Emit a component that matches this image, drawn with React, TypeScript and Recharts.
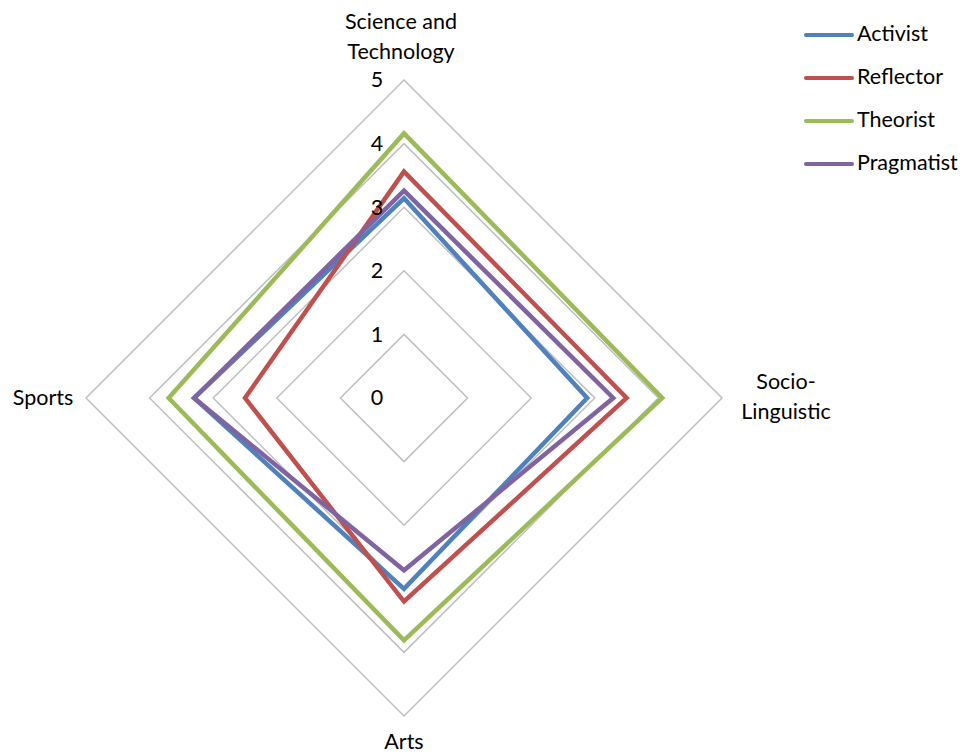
import { Legend, PolarAngleAxis, PolarGrid, PolarRadiusAxis, Radar, RadarChart } from "recharts"

const categories = ["Science and Technology", "Socio-Linguistic", "Arts", "Sports"]
const activist = [3.14, 2.88, 3.0, 3.3]
const reflector = [3.56, 3.5, 3.2, 2.5]
const theorist = [4.16, 4.06, 3.81, 3.7]
const pragmatist = [3.26, 3.29, 2.71, 3.3]
const radiusTicks = [0, 1, 2, 3, 4, 5]

const SERIES = [
  { key: "Activist", color: "#4F81BD" },
  { key: "Reflector", color: "#C0504D" },
  { key: "Theorist", color: "#9BBB59" },
  { key: "Pragmatist", color: "#8064A2" },
]

const chartData = categories.map((category, i) => ({
  category,
  Activist: activist[i],
  Reflector: reflector[i],
  Theorist: theorist[i],
  Pragmatist: pragmatist[i],
}))

const FONT = "Lato, Calibri, sans-serif"
const FONT_SIZE = 21.5

// label lines and offsets per axis, relative to the spoke end
const ANGLE_LABELS: Record<string, { lines: string[]; dx: number; dy: number }> = {
  "Science and Technology": { lines: ["Science and", "Technology"], dx: -3, dy: -48 },
  "Socio-Linguistic": { lines: ["Socio-", "Linguistic"], dx: 56, dy: -14 },
  Arts: { lines: ["Arts"], dx: 0, dy: 20 },
  Sports: { lines: ["Sports"], dx: -35, dy: 2 },
}

function AngleTick(props: any) {
  const { x, y, payload } = props
  const cfg = ANGLE_LABELS[payload.value] ?? { lines: [payload.value], dx: 0, dy: 0 }
  return (
    <text
      x={x + cfg.dx}
      y={y + cfg.dy}
      textAnchor="middle"
      dominantBaseline="middle"
      fontFamily={FONT}
      fontSize={FONT_SIZE}
      fill="#000"
    >
      {cfg.lines.map((line, i) => (
        <tspan key={line} x={x + cfg.dx} dy={i === 0 ? 0 : 30}>
          {line}
        </tspan>
      ))}
    </text>
  )
}

function RadiusTick(props: any) {
  const { x, y, payload } = props
  return (
    <text
      x={x - 27}
      y={y + 2}
      textAnchor="middle"
      dominantBaseline="middle"
      fontFamily={FONT}
      fontSize={FONT_SIZE}
      fill="#000"
    >
      {payload.value}
    </text>
  )
}

function renderLegend() {
  return (
    <svg width={170} height={180}>
      {SERIES.map((s, i) => (
        <g key={s.key}>
          <line
            x1={10}
            x2={56}
            y1={25 + i * 43}
            y2={25 + i * 43}
            stroke={s.color}
            strokeWidth={4}
            strokeLinecap="round"
          />
          <text x={61} y={26 + i * 43} dominantBaseline="middle" fontFamily={FONT} fontSize={FONT_SIZE} fill="#000">
            {s.key}
          </text>
        </g>
      ))}
    </svg>
  )
}

export default function App() {
  return (
    <div style={{ position: "absolute", left: 0, top: 0, width: 966, height: 756, background: "#fff" }}>
      <RadarChart
        width={966}
        height={756}
        data={chartData}
        cx={404}
        cy={398}
        outerRadius={318}
        margin={{ top: 0, right: 0, bottom: 0, left: 0 }}
      >
        <PolarGrid gridType="polygon" radialLines={false} stroke="#BFBFBF" strokeWidth={1.5} />
        <PolarAngleAxis dataKey="category" tick={<AngleTick />} axisLine={false} tickLine={false} />
        <PolarRadiusAxis
          angle={90}
          domain={[0, 5]}
          ticks={radiusTicks as any}
          tickCount={6}
          tick={<RadiusTick />}
          axisLine={false}
          tickLine={false}
        />
        {SERIES.map((s) => (
          <Radar
            key={s.key}
            name={s.key}
            dataKey={s.key}
            stroke={s.color}
            strokeWidth={4.5}
            fill="none"
            fillOpacity={0}
            dot={false}
            isAnimationActive={false}
          />
        ))}
        <Legend
          content={renderLegend}
          wrapperStyle={{ position: "absolute", left: 796, top: 10, width: 170 }}
        />
      </RadarChart>
    </div>
  )
}
